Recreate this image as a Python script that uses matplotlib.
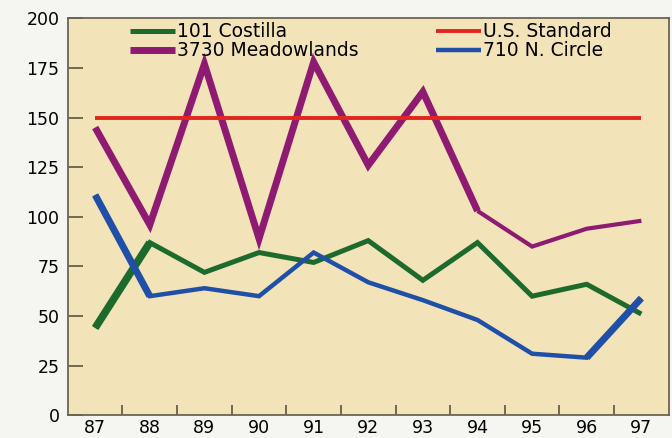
import numpy as np
import matplotlib.pyplot as plt

plt.rcParams['font.family'] = ['DejaVu Sans']

years = ['87', '88', '89', '90', '91', '92', '93', '94', '95', '96', '97']
costilla = [44, 87, 72, 82, 77, 88, 68, 87, 60, 66, 51]
meadowlands = [145, 96, 177, 89, 178, 126, 163, 103, 85, 94, 98]
us_standard = [150, 150, 150, 150, 150, 150, 150, 150, 150, 150, 150]
n_circle = [111, 60, 64, 60, 82, 67, 58, 48, 31, 29, 59]

green = '#1d6b2c'
purple = '#8e1a72'
red = '#e3261c'
blue = '#1f4fa6'

x = np.arange(len(years))

fig = plt.figure(figsize=(6.72, 4.38), dpi=100, facecolor='#f5f5f2')
ax = fig.add_axes([0.101, 0.052, 0.894, 0.906])
ax.set_facecolor('#f2e3b9')

kw = dict(solid_joinstyle='miter', solid_capstyle='butt')
ax.plot(x, costilla, color=green, lw=3.6, label='101 Costilla', **kw)
ax.plot(x[:2], costilla[:2], color=green, lw=5.5, **kw)  # heavier first stroke
ax.plot(x[:8], meadowlands[:8], color=purple, lw=5.0, label='3730 Meadowlands', **kw)
ax.plot(x[7:], meadowlands[7:], color=purple, lw=3.0, **kw)  # thinner tail
ax.plot(x, us_standard, color=red, lw=2.8, label='U.S. Standard', **kw)
ax.plot(x, n_circle, color=blue, lw=3.2, label='710 N. Circle', **kw)
ax.plot(x[:2], n_circle[:2], color=blue, lw=5.0, **kw)
ax.plot(x[-2:], n_circle[-2:], color=blue, lw=5.0, **kw)

ax.set_xlim(-0.5, len(years) - 0.5)
ax.set_ylim(0, 200)
ax.set_yticks(np.arange(0, 201, 25))
ax.set_xticks(x, years)
ax.set_xticks(x[:-1] + 0.5, minor=True)

ax.tick_params(axis='x', which='major', length=0, pad=3, labelsize=12.5)
ax.tick_params(axis='x', which='minor', direction='in', length=7, width=1.2, color='#5a5440')
ax.tick_params(axis='y', direction='in', length=11, width=1.2, color='#5a5440', pad=6, labelsize=12.5)

for s in ax.spines.values():
    s.set_color('#6b6450')
    s.set_linewidth(1.3)

handles, labels = ax.get_legend_handles_labels()
ax.legend(handles, labels, ncol=2, loc='upper left', bbox_to_anchor=(0.103, 0.99), frameon=False,
          fontsize=13.5, handlelength=2.4, handletextpad=0.1, columnspacing=4.15,
          labelspacing=0.0, borderaxespad=0, borderpad=0)

plt.savefig('out.png', dpi=100, facecolor=fig.get_facecolor())
